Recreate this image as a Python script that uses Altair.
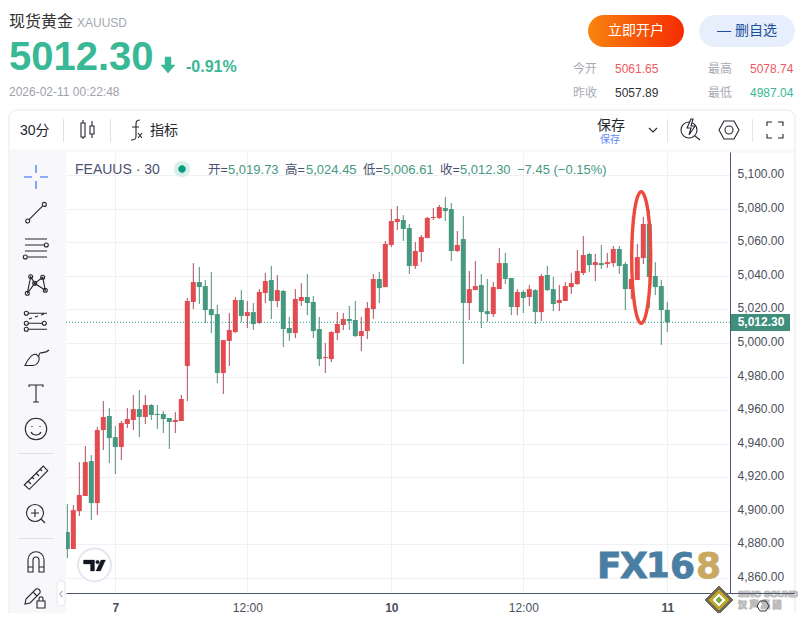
import altair as alt
import pandas as pd

opens = [4887.3,4877.2,4899.8,4908.8,4929.6,4904.6,4948.1,4956.5,4943.9,4938.0,
4951.7,4954.1,4960.6,4955.9,4963.0,4957.7,4957.7,4955.3,4952.9,4953.5,
4986.3,5024.4,5036.3,5033.9,5020.2,5017.2,4982.1,5001.2,5006.5,5025.6,
5016.1,5018.4,5011.9,5029.8,5037.5,5025.0,5031.0,5008.9,5005.9,5025.0,
5027.4,5024.4,5008.3,4991.0,4990.4,5005.9,5010.7,5014.3,5013.7,5004.1,
5007.1,5020.2,5038.1,5033.3,5058.4,5072.1,5073.3,5068.5,5045.9,5054.2,
5062.5,5074.5,5074.5,5080.4,5079.8,5054.8,5061.9,5023.8,5031.5,5034.5,
5019.0,5017.2,5032.1,5047.6,5038.7,5021.4,5030.4,5027.4,5031.5,5018.4,
5040.5,5032.1,5023.8,5025.0,5033.3,5035.1,5041.7,5053.0,5046.4,5047.6,
5047.0,5047.6,5056.0,5047.0,5032.1,5037.5,5050.6,5070.9,5039.9,5033.9,5019.73]
highs = [4904.0,4903.4,4929.0,4938.6,4933.2,4949.9,4965.4,4961.2,4950.5,4953.5,
4961.2,4969.0,4972.0,4969.0,4963.6,4963.0,4959.4,4955.3,4958.8,4969.0,
5026.8,5047.6,5045.3,5037.5,5042.3,5022.6,5001.7,5017.8,5027.4,5031.5,
5025.0,5023.8,5032.1,5041.7,5045.9,5040.5,5031.5,5015.5,5032.1,5035.7,
5041.1,5028.0,5015.5,5000.0,5007.1,5018.4,5017.8,5022.0,5025.0,5015.5,
5024.4,5041.1,5042.3,5060.8,5079.8,5081.6,5076.2,5070.9,5060.2,5064.3,
5075.1,5080.4,5082.2,5087.0,5083.4,5066.7,5075.6,5042.9,5048.8,5041.1,
5038.1,5036.3,5056.6,5053.6,5038.7,5032.1,5031.5,5034.5,5032.1,5041.1,
5045.9,5039.3,5034.5,5036.3,5041.7,5055.4,5063.7,5053.6,5053.0,5058.4,
5053.6,5057.8,5057.8,5048.2,5038.1,5059.0,5075.1,5079.2,5048.2,5037.5,5024.45]
lows = [4871.8,4877.2,4896.9,4908.8,4894.5,4897.5,4936.2,4928.5,4921.9,4930.2,
4949.3,4948.1,4943.9,4951.7,4954.1,4948.7,4946.3,4936.8,4946.3,4953.5,
4965.4,5020.2,5023.2,5011.9,5005.9,4976.1,4969.6,4986.3,5005.9,5012.5,
5008.9,5007.7,5011.3,5023.8,5014.3,5021.4,4997.6,5001.2,5002.9,5022.0,
5016.6,5002.9,4986.3,4982.1,4988.6,5001.7,5007.7,5007.7,5003.5,4995.2,
5002.3,5014.3,5023.8,5033.3,5057.2,5067.3,5060.8,5041.1,5044.1,5048.2,
5062.5,5073.3,5073.9,5072.7,5048.8,5054.2,4987.4,5013.7,5031.5,5008.9,
5012.5,5015.5,5032.1,5035.1,5016.6,5016.6,5017.8,5022.0,5011.3,5013.1,
5031.0,5019.0,5019.0,5025.0,5029.2,5034.5,5040.5,5042.3,5036.9,5044.1,
5044.7,5045.3,5041.1,5019.6,5026.2,5037.5,5047.0,5020.8,5028.6,4998.8,5006.61]
closes = [4877.2,4900.4,4909.4,4929.0,4904.6,4948.1,4955.9,4943.3,4938.0,4952.3,
4954.7,4960.6,4955.9,4963.0,4957.1,4957.1,4954.7,4952.9,4954.1,4966.6,
5025.0,5036.3,5033.3,5019.6,5016.6,4982.1,5001.7,5007.7,5025.6,5016.1,
5018.4,5011.3,5030.4,5036.9,5025.0,5031.5,5008.3,5005.9,5026.2,5027.4,
5023.8,5007.1,4990.4,4991.6,5006.5,5011.3,5014.3,5013.1,5004.1,5007.1,
5020.8,5038.1,5032.7,5059.0,5072.7,5073.9,5067.9,5045.9,5054.8,5063.1,
5074.5,5075.1,5081.0,5078.6,5054.8,5058.4,5023.8,5032.1,5033.9,5018.4,
5017.2,5033.3,5047.6,5038.1,5021.4,5030.4,5026.8,5032.1,5018.4,5039.9,
5031.5,5023.2,5025.6,5033.9,5035.7,5042.9,5052.4,5046.4,5048.2,5046.4,
5048.2,5056.0,5045.9,5032.1,5038.1,5051.2,5070.9,5039.3,5033.3,5019.6,5012.30]

y_ticks = [4860,4880,4900,4920,4940,4960,4980,5000,5020,5040,5060,5080,5100]
x_ticks = [8,30,54,76,100]
x_labels = ["7","12:00","10","12:00","11"]
bold_ticks = [8,54,100]
last_price = 5012.30

UP, DOWN = "#e34b50", "#469881"
UPW, DOWNW = "#a84f5c", "#528d76"
GREEN, RED = "#38b894", "#f0575f"
INK, LINE = "#23262f", "#4c5672"
LAT = "Liberation Sans, Noto Sans CJK SC"
OX, OY = 66, 152

df = pd.DataFrame({"i": range(len(opens)), "o": opens, "h": highs, "l": lows, "c": closes})
df["up"] = df.c >= df.o
one = alt.Data(values=[{"a": 1}])

xs = alt.Scale(domain=[-0.22, 110.45], nice=False, zero=False, padding=0)
ys = alt.Scale(domain=[4851.0, 5113.8], nice=False, zero=False, padding=0)
lab_expr = "%s[indexof(%s,datum.value)]" % (x_labels, x_ticks)
bold_test = "||".join("datum.value==%d" % v for v in bold_ticks)
x_axis = alt.Axis(values=x_ticks, labelExpr=lab_expr, title=None, grid=True, gridColor="#eff0f3", ticks=False,
                  domainColor=LINE, labelColor="#4a4f5c", labelFontSize=12, labelPadding=9, labelFont="Liberation Sans",
                  labelFontWeight={"condition": {"test": bold_test, "value": "bold"}, "value": "normal"}, labelFlush=False)
y_axis = alt.Axis(values=y_ticks, format=",.2f", orient="right", title=None, grid=True, gridColor="#f0f0f2", ticks=False,
                  domainColor=LINE, labelColor="#4a4f5c", labelFontSize=12, labelPadding=7, labelFont="Liberation Sans",
                  labelOffset=-1.5)

def color_enc(a, b):
    return alt.condition("datum.up", alt.value(a), alt.value(b))

X = alt.X("i:Q", scale=xs, axis=x_axis)
wicks = alt.Chart(df).mark_rule(strokeWidth=1, clip=True).encode(
    x=X, y=alt.Y("l:Q", scale=ys, axis=y_axis), y2="h:Q", color=color_enc(UPW, DOWNW))
bodies = alt.Chart(df).mark_bar(size=5, clip=True).encode(
    x=X, y=alt.Y("o:Q", scale=ys, axis=y_axis), y2="c:Q", color=color_enc(UP, DOWN))
price = alt.Data(values=[{"p": last_price}])
pline = alt.Chart(price).mark_rule(color="#2f9e8c", strokeDash=[1, 2], strokeWidth=1).encode(y=alt.Y("p:Q", scale=ys, axis=y_axis))

def T(x, y, s, size=12, color=INK, weight="normal", align="left", font=LAT, **kw):
    return alt.Chart(one).mark_text(text=s, align=align, baseline="middle", fontSize=size, color=color,
                                    fontWeight=weight, font=font, **kw).encode(x=alt.value(x - OX), y=alt.value(y - OY))

def R(x1, y1, x2, y2, fill="transparent", stroke=None, radius=0, sw=1):
    kw = {"fill": fill}
    if stroke:
        kw.update(stroke=stroke, strokeWidth=sw)
    if radius:
        kw["cornerRadius"] = radius
    return alt.Chart(one).mark_rect(**kw).encode(x=alt.value(x1 - OX), x2=alt.value(x2 - OX), y=alt.value(y1 - OY), y2=alt.value(y2 - OY))

def c(x, y, r):
    return f"M {x-r} {y} A {r} {r} 0 1 0 {x+r} {y} A {r} {r} 0 1 0 {x-r} {y} Z "

def I(cx, cy, path, stroke=INK, sw=1.1, fill="transparent", opacity=1):
    return alt.Chart(one).mark_point(shape=path, size=4, fill=fill, stroke=stroke, strokeWidth=sw, opacity=opacity, filled=False
                                     ).encode(x=alt.value(cx - OX), y=alt.value(cy - OY))

grad = alt.Gradient(gradient="linear", stops=[alt.GradientStop(color="#f98410", offset=0), alt.GradientStop(color="#f52c04", offset=1)], x1=0, x2=1, y1=0, y2=0)

back = [
    R(9, 110, 795, 640, fill="transparent", stroke="#e8e9ee", radius=8),
    R(10, 149, 794, 152, fill="#f8f8f9"),
    R(10, 152, 66, 640, fill="#f8f8fa"),
    R(731, 152, 795, 153, fill="#f8f8f9"),
]
head = [
    T(9, 22, "现货黄金", 16, "#333333"),
    T(77, 23, "XAUUSD", 12, "#a4a7b3"),
    T(9, 58, "5012.30", 40, GREEN, "bold"),
    I(168, 65, "M -3 -8 H 3 V 0 H 7 L 0 8 L -7 0 H -3 Z", GREEN, 0.5, GREEN),
    T(186, 67, "-0.91%", 16, GREEN, "bold"),
    T(9, 92, "2026-02-11 00:22:48", 12, "#a0a2aa"),
    R(588, 15, 684, 47, fill=grad, radius=16),
    T(636, 31, "立即开户", 14, "white", align="center"),
    R(699, 15, 795, 47, fill="#e8effc", radius=16),
    T(747, 31, "— 删自选", 14, "#1d4f9e", align="center"),
    T(573, 69, "今开", 12, "#a8abb5"), T(615, 69, "5061.65", 12, RED),
    T(708, 69, "最高", 12, "#a8abb5"), T(750, 69, "5078.74", 12, RED),
    T(573, 93, "昨收", 12, "#a8abb5"), T(615, 93, "5057.89", 12, "#333333"),
    T(708, 93, "最低", 12, "#a8abb5"), T(750, 93, "4987.04", 12, GREEN),
    T(20, 131, "30分", 14, INK),
    R(63, 119, 64, 142, fill="#dfe1e8"), R(110, 119, 111, 142, fill="#dfe1e8"),
    R(667, 119, 668, 142, fill="#e4e5ea"), R(752, 119, 753, 142, fill="#e4e5ea"),
    I(87, 130, "M -6 -7 H -2 V 7 H -6 Z M -4 -10 V -7 M -4 7 V 9 M 3 -4 H 7 V 4 H 3 Z M 5 -9 V -4 M 5 4 V 8"),
    I(134, 130, "M 6 -10 C 2 -10 2 -8 2 -5 V 6 C 2 9 1 10 -3 10 M -2 -3 H 5 M 4 3 L 8 8 M 8 3 L 4 8"),
    T(150, 131, "指标", 14, INK),
    T(597, 126, "保存", 14, INK),
    T(600, 140, "保存", 10, "#5b8cf5"),
    I(653, 130, "M -4 -2 L 0 2 L 4 -2"),
    I(690, 130, c(-1, 0, 8) + "M 5 6 L 10 10"),
    I(691, 128, "M 0 -9 L -4 0 H 0 L -2 7 L 4 -2 H 0 L 2 -9 Z", INK, 1.1, "white"),
    I(729, 130, "M -10 0 L -5 -9 H 5 L 10 0 L 5 9 H -5 Z " + c(0, 0, 4)),
    I(775, 130, "M -8 -4 V -8 H -3 M 3 -8 H 8 V -4 M 8 4 V 8 H 3 M -3 8 H -8 V 4"),
]
tools = [
    I(36, 177, "M -12 0 H -4 M 4 0 H 12 M 0 -12 V -4 M 0 4 V 12", "#2962ff"),
    I(36, 212.7, "M -7 7 L 7 -7 " + c(-8.3, 8.3, 2) + c(8.3, -8.3, 2)),
    I(36, 248, "M -11 -9 H 11 M -11 -3 H 8 M -11 3 H 11 M -8 9 H 11 " + c(10.3, -3, 2) + c(-10.7, 9, 2)),
    I(36, 285, "M -8.7 8.3 L -5.3 -8.3 L -1.3 -1.7 L 9.3 5.3 L 6.7 -7.7 L -1.3 -1.7 L -8.7 8.3 "
       + c(-8.7, 8.3, 2) + c(-5.3, -8.3, 2) + c(-1.3, -1.7, 2) + c(9.3, 5.3, 2) + c(6.7, -7.7, 2)),
    I(36, 320, "M -8 -6.7 H 11 M -8 3.3 H 6 M -8 9.3 H 11 M -7 -1 L -4 -2 M -1 -3 L 2 -4 M 5 -5 L 8 -6 "
       + c(-9.7, -6.7, 2) + c(-9.7, 3.3, 2) + c(8.3, 3.3, 2) + c(-9.7, 9.3, 2)),
    I(36, 358, "M -11 7.5 H -3 C 1 7.5 4 3 3 -1 L 0 -4 C -5 -4 -9 3 -11 7.5 Z M 3 -2 C 3 -8 8 -3 13 -8"),
    I(36, 393, "M -7 -6 V -8 H 7 V -6 M 0 -8 V 9 M -3 9 H 3"),
    I(36, 429, c(0, 0, 10.7) + "M -4 -3 V -2 M 4 -3 V -2 M -5 3 C -3 7 3 7 5 3"),
    R(18, 453, 54, 454, fill="#dfe1e8"),
    I(36, 478, "M -11.7 7 L 7.3 -12 L 11.7 -7.3 L -6.7 11.3 Z M -8 3 L -5 6 M -4 -1 L -2 1 M 0 -5 L 3 -2 M 4 -9 L 6 -7"),
    I(35, 513, c(0, 0, 8.5) + "M 6 6 L 10 10 M -4 0 H 4 M 0 -4 V 4"),
    R(18, 538, 54, 539, fill="#dfe1e8"),
    I(36, 562, "M -8 10 V -2 C -8 -13 8 -13 8 -2 V 10 H 3 V -2 C 3 -6 -3 -6 -3 -2 V 10 Z M -8 5 H -3 M 3 5 H 8"),
    I(33, 596, "M -8 8 L -7 3 L 3 -7 C 5 -8 8 -6 7 -3 L -3 7 Z M 0 -4 L 4 0 M 4 5 H 12 V 12 H 4 Z M 6 5 V 3 C 6 0 10 0 10 3 V 5"),
    R(57, 581, 65, 606, fill="white", stroke="#e4e6ee", radius=4),
    I(61, 594, "M 1.5 -3 L -1.5 0 L 1.5 3", "#b0b3bd"),
]
legend = [
    T(75, 170, "FEAUUS · 30", 14, "#4a5270"),
    I(182, 169, c(0, 0, 8), "#d8efe9", 0.5, "#d8efe9"),
    I(182, 169, c(0, 0, 3.5), "#089981", 0.5, "#089981"),
    T(208, 170, "开=", 12.5, "#4a5270"), T(228, 170, "5,019.73", 13, DOWN),
    T(285, 170, "高=", 12.5, "#4a5270"), T(306, 170, "5,024.45", 13, DOWN),
    T(363, 170, "低=", 12.5, "#4a5270"), T(383, 170, "5,006.61", 13, DOWN),
    T(440, 170, "收=", 12.5, "#4a5270"), T(460, 170, "5,012.30", 13, DOWN),
    T(517, 170, "−7.45 (−0.15%)", 13, DOWN),
]
mark = [
    I(641.2, 257.5, "M 0 -65.8 A 9.5 65.8 0 1 1 0 65.8 A 9.5 65.8 0 1 1 0 -65.8 Z", "#ee4a3c", 3.4),
    R(731, 314, 790, 331, fill="#3f8f7c"),
    alt.Chart(price).mark_text(text="5,012.30", fontSize=12, fontWeight="bold", color="white", font="Liberation Sans", align="center", baseline="middle").encode(
        x=alt.value(761 - OX), y=alt.Y("p:Q", scale=ys, axis=y_axis)),
    R(730, 593, 795, 594, fill=LINE),
    I(94.5, 565, c(0, 0, 16.5), "#e4e6f0", 2, "white"),
    I(94.5, 565, "M -11 -5 H 0 V 6 H -4 V -1 H -11 Z " + c(3, -3, 1.8) + "M 11 -5 L 6 6 H 1.5 L 6.5 -5 Z", "#131722", 0.3, "#131722"),
]
wm = []
for ch, x, col, sz in [("F", 597, "#4a7ea3", 36), ("X", 620, "#4a7ea3", 36), ("1", 646, "#4a7ea3", 34), ("6", 670, "#4a7ea3", 36), ("8", 696, "#c9a862", 36)]:
    wm.append(T(x, 567, ch, sz, col, "bold", font="DejaVu Sans", stroke=col, strokeWidth=0.8))
wm += [
    I(719, 600, "M 0 -14 L 14 0 L 0 14 L -14 0 Z", "#6e6a55", 1, "#6e6a55"),
    I(719, 600, "M 0 -10 L 10 0 L 0 10 L -10 0 Z", "#c0a62d", 1, "#c0a62d"),
    I(719, 600, "M 0 -6 L 6 0 L 0 6 L -6 0 Z", "white", 1, "white"),
    I(719, 600, "M 0 -3 L 3 0 L 0 3 L -3 0 Z", "#7aa83c", 1, "#7aa83c"),
    T(738, 594, "SINO SOUND", 9.5, "white", "bold", font="Liberation Sans", stroke="#8f8f8f", strokeWidth=1.2, strokeOpacity=0.6),
    T(738, 605, "汉  声  集  团", 9, "white", "bold", stroke="#8f8f8f", strokeWidth=1.2, strokeOpacity=0.6),
    I(763, 606, "M -6 0 L -3 -5 H 3 L 6 0 L 3 5 H -3 Z", INK, 0.9),
]

chart = alt.layer(*back, wicks, bodies, pline, *head, *tools, *legend, *wm, *mark).properties(
    width=664, height=441, background="white",
    padding={"left": 58, "top": 144, "right": 68, "bottom": 20},
    autosize=alt.AutoSizeParams(type="none"),
).configure_view(stroke=None)

chart.save("out.html", embed_options={"renderer": "svg", "actions": False})
